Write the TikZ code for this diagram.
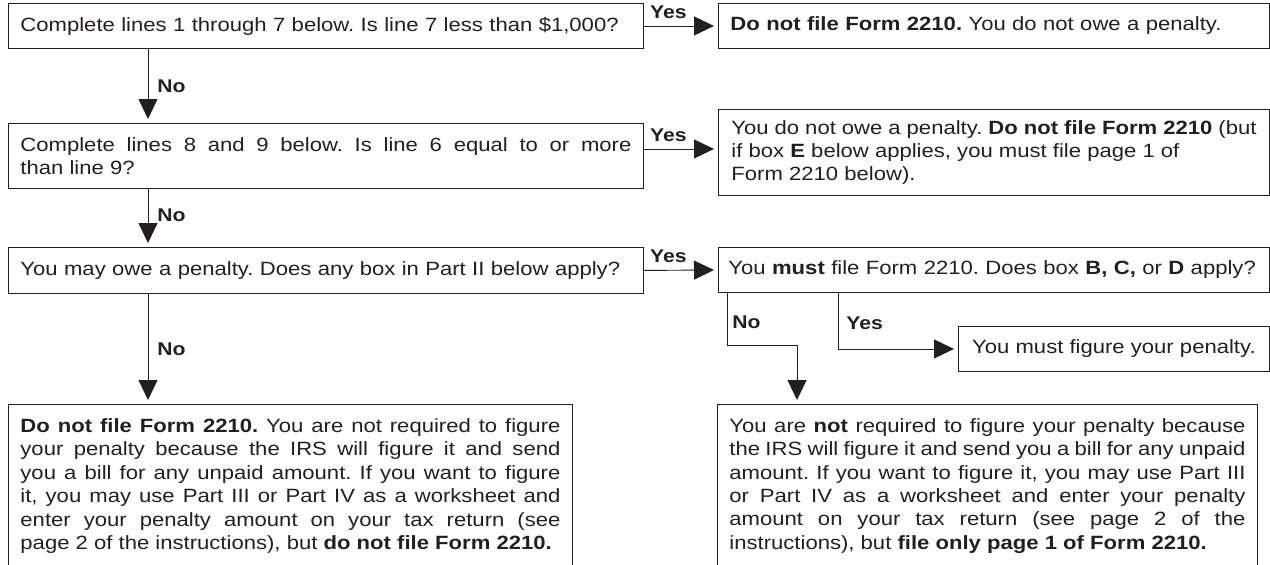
\documentclass[tikz,border=0pt]{standalone}
\usepackage{fontspec}
\setmainfont{Liberation Sans}[FakeStretch=1.15]
\usepackage{xcolor}
\usetikzlibrary{arrows.meta,positioning,calc}

\definecolor{ink}{HTML}{231F20}
\newcommand{\boxfont}{\fontsize{19.2pt}{23.4pt}\selectfont}
\newcommand{\tagfont}{\fontsize{18.4pt}{20pt}\selectfont\bfseries}
\frenchspacing

\begin{document}
\begin{tikzpicture}[x=1pt,y=-1pt,
    box/.style={draw=ink, line width=0.9pt, anchor=north west, inner xsep=12pt, inner ysep=0pt, align=left, text=ink, font=\boxfont},
    flow/.style={draw=ink, line width=0.9pt, -{Triangle[length=20pt,width=19pt]}, shorten >=4pt},
    yesno/.style={inner sep=5pt, text=ink, font=\tagfont}]
    \useasboundingbox (0,0) rectangle (1270,565);

    % Lines 1 to 7
    \node[box, text width=611pt, minimum height=45pt] (q1) at (8,3) {Complete lines 1 through 7 below. Is line 7 less than \$1,000?};
    \node[box, text width=527pt, minimum height=45pt] (a1) at (718,3) {\textbf{Do not file Form 2210.} You do not owe a penalty.};

    % Lines 8 and 9
    \node[box, align=justify, text width=611pt, minimum height=65pt] (q2) at (8,123) {Complete lines 8 and 9 below. Is line 6 equal to or more\linebreak than line 9?};
    \node[box, align=justify, inner xsep=13pt, text width=525pt, minimum height=86pt] (a2) at (718,109) {You do not owe a penalty. \textbf{Do not file Form 2210} (but\linebreak if box \textbf{E} below applies, you must file page 1 of\\ Form 2210 below).};

    % Part II
    \node[box, text width=611pt, minimum height=46pt] (q3) at (8,247) {You may owe a penalty. Does any box in Part II below apply?};
    \node[box, inner xsep=10pt, text width=531pt, minimum height=45pt] (a3) at (718,247) {You \textbf{must} file Form 2210. Does box \textbf{B, C,} or \textbf{D} apply?};
    \node[box, align=center, minimum width=311pt, minimum height=45pt] (a4) at (958,326) {You must figure your penalty.};

    % Outcomes
    \node[box, align=justify, text width=540pt, minimum height=163pt] (n1) at (8,404) {\parfillskip=0pt \textbf{Do not file Form 2210.} You are not required to figure\linebreak your penalty because the IRS will figure it and send\linebreak you a bill for any unpaid amount. If you want to figure\linebreak it, you may use Part III or Part IV as a worksheet and\linebreak enter your penalty amount on your tax return (see\linebreak page 2 of the instructions), but \textbf{do not file Form 2210.}};
    \node[box, align=justify, text width=516pt, minimum height=163pt] (n2) at (717,404) {\parfillskip=0pt You are \textbf{not} required to figure your penalty because\linebreak the IRS will figure it and send you a bill for any unpaid\linebreak amount. If you want to figure it, you may use Part III\linebreak or Part IV as a worksheet and enter your penalty\linebreak amount on your tax return (see page 2 of the\linebreak instructions), but \textbf{file only page 1 of Form 2210.}};

    % Yes
    \draw[flow] (q1.east) -- node[yesno, above=2pt, pos=0.33] {Yes} (a1.west);
    \draw[flow] ([yshift=7pt]q2.east) -- node[yesno, above=2pt, pos=0.33] {Yes} ([yshift=7pt]q2.east -| a2.west);
    \draw[flow] (q3.east) -- node[yesno, above=2pt, pos=0.33] {Yes} (a3.west);

    % No
    \draw[flow] ([xshift=140pt]q1.south west) -- node[yesno, right=4pt] {No} ([xshift=140pt]q2.north west);
    \draw[flow] ([xshift=140pt]q2.south west) -- node[yesno, right=4pt, pos=0.45] {No} ([xshift=140pt]q3.north west);
    \draw[flow] ([xshift=140pt]q3.south west) -- node[yesno, right=4pt] {No} ([xshift=140pt]n1.north west);

    % Box B, C or D
    \draw[flow] ([xshift=9pt]a3.south west) -- node[yesno, right, pos=0.55] {No} ++(0,53) -| ([xshift=80pt]n2.north west);
    \draw[flow] ([xshift=120pt]a3.south west) |- node[yesno, right=3pt, pos=0.27] {Yes} (a4.west);
\end{tikzpicture}
\end{document}
